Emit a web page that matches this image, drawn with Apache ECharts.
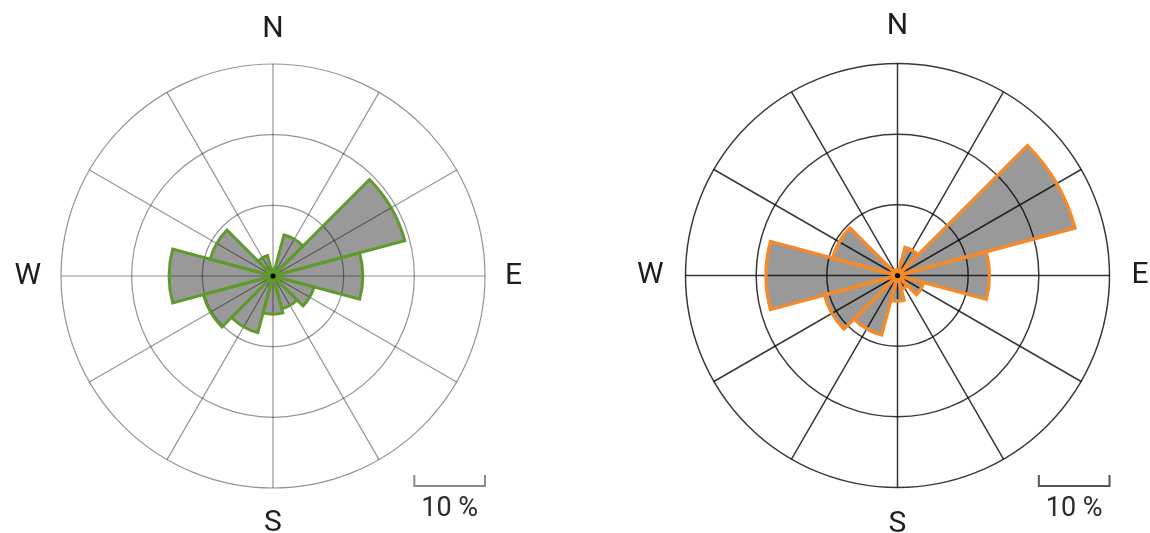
<!DOCTYPE html>
<html>
<head>
<meta charset="utf-8">
<script src="https://cdn.jsdelivr.net/npm/echarts@6/dist/echarts.min.js"></script>
<style>
  html, body { margin: 0; padding: 0; background: #ffffff; }
  #chart { width: 1150px; height: 533px; }
</style>
</head>
<body>
<div id="chart"></div>
<script>
// Wind direction sectors (compass degrees, centred on each spoke)
const directions = ['0°', '30°', '60°', '90°', '120°', '150°', '180°', '210°', '240°', '270°', '300°', '330°'];
// Frequency (%) per sector
const leftValues  = [1.0, 6.0, 19.3, 12.7, 6.0, 4.8, 5.4, 8.3, 10.2, 14.7, 9.2, 3.0];
const rightValues = [0.8, 4.1, 26.0, 13.0, 3.8, 2.0, 3.6, 8.7, 10.7, 18.6, 9.5, 0.8];
// Compass labels
const compassLabels = { 0: 'N', 90: 'E', 180: 'S', 270: 'W' };
const scaleLabel = '10 %';
const radiusMax = 30;

const R = 212;
const leftCenter = [273, 276];
const rightCenter = [897.5, 275.5];
const FONT = 'Roboto, "Open Sans", sans-serif';

function makeRose(idx, center, values, borderColor, borderWidth, gridColor, gridWidth, labelMargin) {
  const pBars = idx * 2, pGrid = idx * 2 + 1;
  const polars = [
    { center: center, radius: R },
    { center: center, radius: R }
  ];
  const angleAxes = [
    { polarIndex: pBars, type: 'category', data: directions, startAngle: 105, clockwise: true,
      boundaryGap: true,
      axisLine: { show: false }, axisTick: { show: false }, axisLabel: { show: false },
      splitLine: { show: false }, splitArea: { show: false }, z: 0 },
    { polarIndex: pGrid, type: 'value', min: 0, max: 360, interval: 30, startAngle: 90, clockwise: true,
      axisLine: { show: false },
      axisTick: { show: false },
      axisLabel: { show: true, margin: labelMargin, fontSize: 30, fontFamily: FONT, color: '#1e1e1e',
        formatter: function (v) { return v === 360 ? '' : (compassLabels[v] || ''); } },
      splitLine: { show: true, lineStyle: { color: gridColor, width: gridWidth } },
      z: 3 }
  ];
  const radiusAxes = [
    { polarIndex: pBars, type: 'value', min: 0, max: radiusMax,
      axisLine: { show: false }, axisTick: { show: false }, axisLabel: { show: false },
      splitLine: { show: false }, z: 0 },
    { polarIndex: pGrid, type: 'value', min: 0, max: radiusMax, interval: 10,
      axisLine: { show: false }, axisTick: { show: false }, axisLabel: { show: false },
      splitLine: { show: true, lineStyle: { color: gridColor, width: gridWidth } },
      splitArea: { show: false }, z: 3 }
  ];
  const series = [
    { type: 'bar', coordinateSystem: 'polar', polarIndex: pBars, data: values,
      barCategoryGap: '0%', barGap: '-100%', z: 1, silent: true,
      itemStyle: { color: '#999999', borderWidth: 0 } },
    { type: 'bar', coordinateSystem: 'polar', polarIndex: pBars, data: values,
      barCategoryGap: '0%', barGap: '-100%', z: 5, silent: true,
      itemStyle: { color: 'rgba(0,0,0,0)', borderColor: borderColor, borderWidth: borderWidth } }
  ];
  return { polars, angleAxes, radiusAxes, series };
}

const L = makeRose(0, leftCenter, leftValues, '#5f9a2c', 3, 'rgba(0,0,0,0.42)', 1.2, 20);
const Rr = makeRose(1, rightCenter, rightValues, '#f58a2a', 3.4, 'rgba(0,0,0,0.78)', 1.5, 22);

function decorations(center, color) {
  const x0 = center[0] + R * 20 / radiusMax;
  const x1 = center[0] + R;
  const yTop = 475, yBot = 486;
  return [
    { type: 'circle', silent: true, z: 100, shape: { cx: center[0], cy: center[1], r: 2.6 },
      style: { fill: '#000000' } },
    { type: 'polyline', silent: true,
      shape: { points: [[x0, yTop], [x0, yBot], [x1, yBot], [x1, yTop]] },
      style: { stroke: color, lineWidth: 2, fill: null } },
    { type: 'text', silent: true, x: (x0 + x1) / 2, y: 509,
      style: { text: scaleLabel, font: '27px ' + FONT, fill: '#2a2a2a',
        textAlign: 'center', textVerticalAlign: 'middle' } }
  ];
}

const chart = echarts.init(document.getElementById('chart'), null, { renderer: 'canvas' });
chart.setOption({
  backgroundColor: '#ffffff',
  animation: false,
  polar: L.polars.concat(Rr.polars),
  angleAxis: L.angleAxes.concat(Rr.angleAxes),
  radiusAxis: L.radiusAxes.concat(Rr.radiusAxes),
  series: L.series.concat(Rr.series),
  graphic: decorations(leftCenter, '#8a8a8a').concat(decorations(rightCenter, '#555555'))
});
</script>
</body>
</html>
